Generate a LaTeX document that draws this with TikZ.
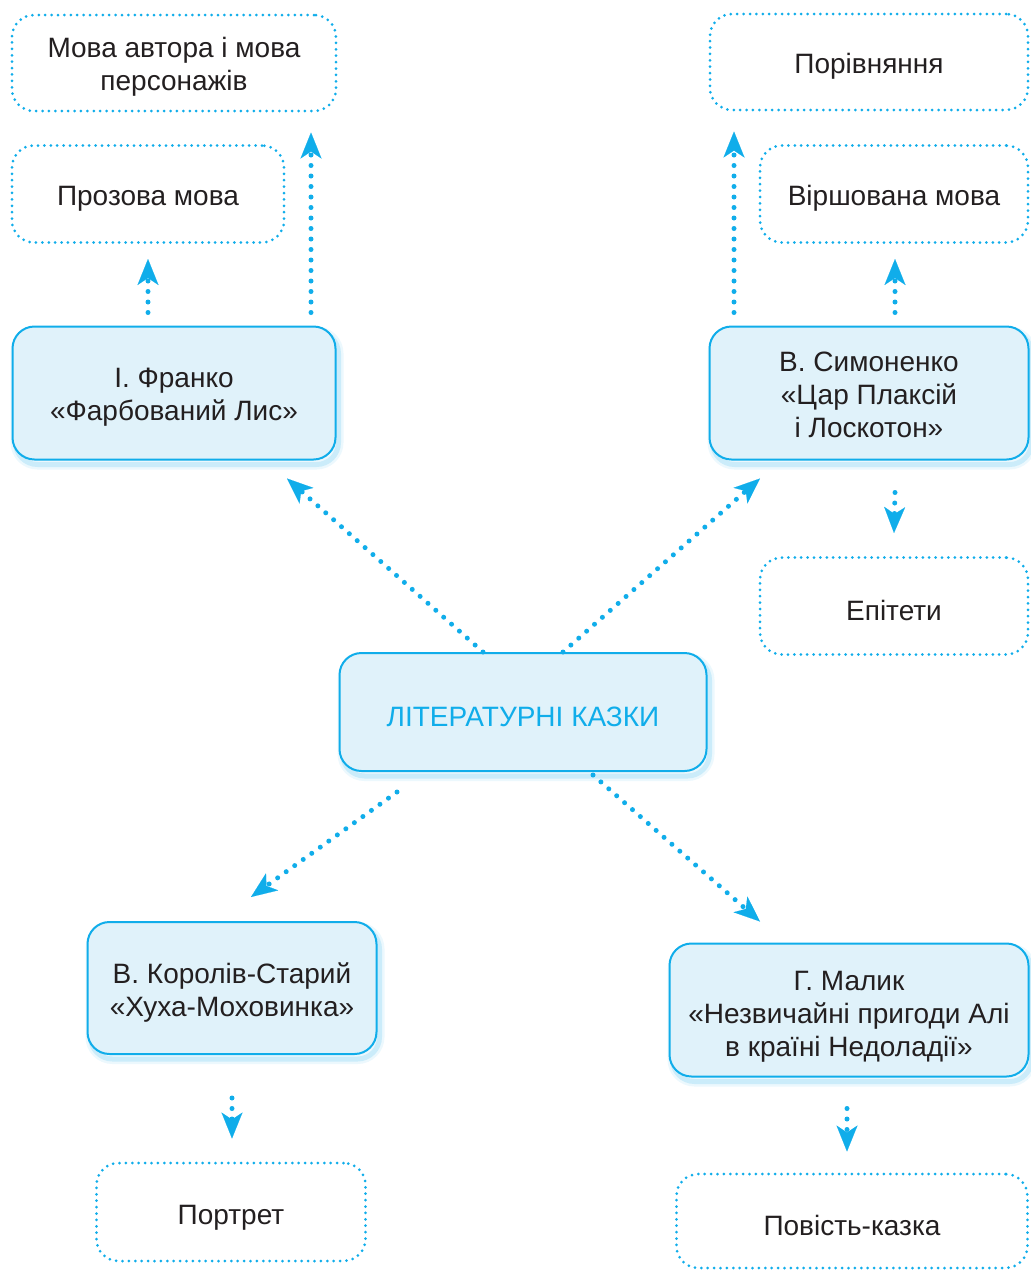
\documentclass[tikz,border=0pt]{standalone}
\usepackage{fontspec}
\setmainfont{Liberation Sans}
\usetikzlibrary{arrows.meta}
\definecolor{cy}{HTML}{10ADEA}
\definecolor{boxfill}{HTML}{E0F2FA}
\definecolor{glow}{HTML}{7FD0F2}
\definecolor{txt}{HTML}{231F20}
\newcommand\tstrut[1][28.5pt]{\rule{0pt}{#1}}
\tikzset{
  solidbox/.style={draw=cy, line width=2pt, fill=boxfill, rounded corners=22pt,
    align=center, text=txt, font=\fontsize{28}{33}\selectfont, inner sep=0pt,
    preaction={draw=glow, line width=10pt, opacity=0.15, transform canvas={xshift=3pt,yshift=-5pt}},
    preaction={draw=glow, line width=5pt, opacity=0.3, transform canvas={xshift=3pt,yshift=-5pt}}},
  dotbox/.style={draw=cy, line width=3pt, line cap=round, dash pattern=on 0pt off 6.4pt,
    rounded corners=22pt, align=center, text=txt, font=\fontsize{28}{33}\selectfont, inner sep=0pt},
  arr/.style={draw=cy, line width=5pt, line cap=round, dash pattern=on 0pt off 10.5pt,
    -{Stealth[length=26pt,width=21pt,inset=7pt,line width=0.1pt]}},
}
\begin{document}
\begin{tikzpicture}[x=1pt,y=-1pt]
\useasboundingbox (0,0) rectangle (1031,1270);
% dotted boxes
\node[dotbox, minimum width=324pt, minimum height=96pt] (mova) at (174,63) {\tstrut[28pt]Мова автора і мова\\персонажів};
\node[dotbox, minimum width=272pt, minimum height=97pt] (proz) at (148,194) {\tstrut Прозова мова};
\node[dotbox, minimum width=318pt, minimum height=96pt] (por) at (869,62) {\tstrut Порівняння};
\node[dotbox, minimum width=268pt, minimum height=97pt] (vir) at (894,194) {\tstrut Віршована мова};
\node[dotbox, minimum width=268pt, minimum height=97pt] (ep) at (894,606) {\tstrut Епітети};
\node[dotbox, minimum width=269pt, minimum height=98pt] (port) at (231,1212) {\tstrut[31pt]Портрет};
\node[dotbox, minimum width=351pt, minimum height=94pt] (pov) at (852,1221) {\tstrut Повість-казка};
% solid boxes
\node[solidbox, minimum width=323pt, minimum height=133pt] (fr) at (174,393) {\tstrut І. Франко\\«Фарбований Лис»};
\node[solidbox, minimum width=319pt, minimum height=133pt] (sym) at (869,393) {\tstrut[23pt]В. Симоненко\\«Цар Плаксій\\і Лоскотон»};
\node[solidbox, minimum width=367pt, minimum height=118pt, text=cy] (lk) at (523,712) {\tstrut ЛІТЕРАТУРНІ КАЗКИ};
\node[solidbox, minimum width=289pt, minimum height=132pt] (kor) at (232,988) {\tstrut[30pt]В. Королів-Старий\\«Хуха-Моховинка»};
\node[solidbox, minimum width=359pt, minimum height=133pt] (mal) at (849,1010) {\tstrut[33pt]Г. Малик\\«Незвичайні пригоди Алі\\в країні Недоладії»};
% connectors
\draw[arr] ([xshift=-40pt]lk.north) -- ([xshift=113pt,yshift=-18pt]fr.south);
\draw[arr] ([xshift=40pt]lk.north) -- ([xshift=-109pt,yshift=-18pt]sym.south);
\draw[arr] ([xshift=-126pt,yshift=-20pt]lk.south) -- ([xshift=19pt,yshift=24pt]kor.north);
\draw[arr] ([xshift=70pt,yshift=-3pt]lk.south) -- ([xshift=-89pt,yshift=21pt]mal.north);
\draw[arr] ([xshift=26pt,yshift=-32pt]sym.south) -- ([yshift=23pt]ep.north);
\draw[arr] ([yshift=-43pt]kor.south) -- ([xshift=1pt,yshift=23pt]port.north);
\draw[arr] ([xshift=-2pt,yshift=-31pt]mal.south) -- ([xshift=-5pt,yshift=21pt]pov.north);
\draw[arr] ([xshift=-26pt,yshift=13pt]fr.north) -- ([yshift=-15pt]proz.south);
\draw[arr] ([xshift=137pt,yshift=13pt]fr.north) -- ([xshift=137pt,yshift=-20pt]mova.south);
\draw[arr] ([xshift=-135pt,yshift=13pt]sym.north) -- ([xshift=-135pt,yshift=-20pt]por.south);
\draw[arr] ([xshift=26pt,yshift=13pt]sym.north) -- ([xshift=1pt,yshift=-15pt]vir.south);
\end{tikzpicture}
\end{document}
